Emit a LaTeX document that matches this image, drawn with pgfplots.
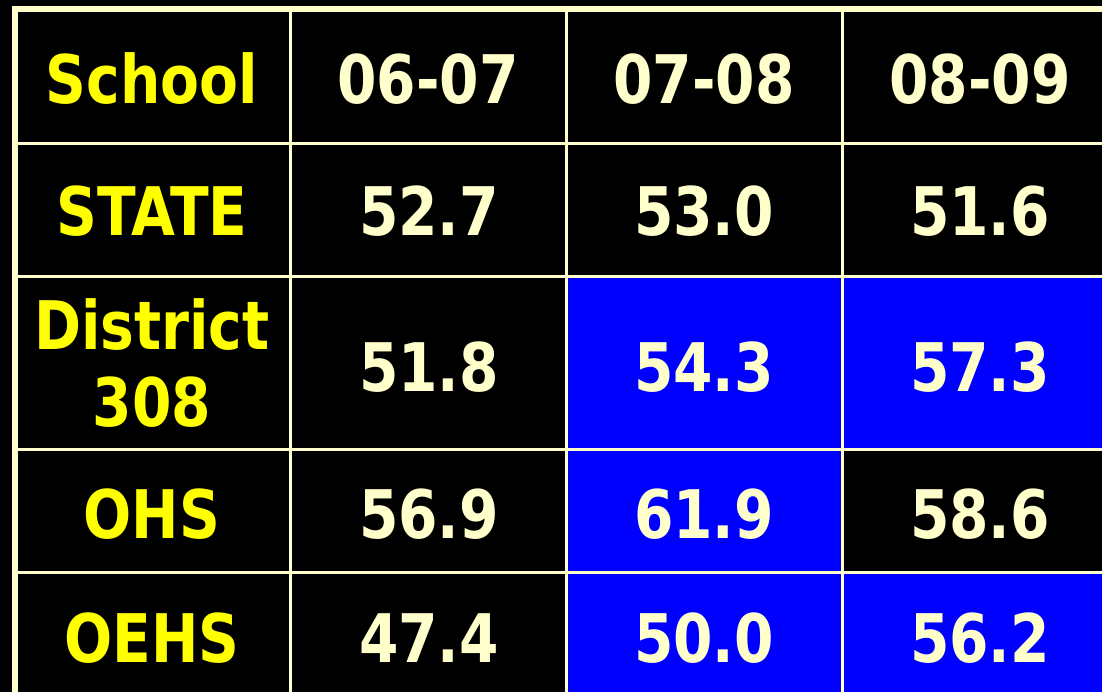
\documentclass[border=0pt]{standalone}
\usepackage{pgfplots}
\pgfplotsset{compat=1.18}
\usepackage{pgfplotstable}
\usepackage{fontspec}
\newfontfamily\tf[FakeStretch=0.94]{DejaVu Sans Condensed Bold}
\definecolor{cream}{HTML}{FFFFCC}
\definecolor{ylw}{HTML}{FFFF00}
\definecolor{cellblue}{HTML}{0000FF}

% School column (yellow)
\pgfplotstableread{
x y label
152 103 School
152 235 STATE
152 349 District
152 426 308
152 538 OHS
152 662 OEHS
}\schoolcol

% Header years and values (cream)
\pgfplotstableread{
x y label
428 103 06-07
704 103 07-08
980 103 08-09
429 235 52.7
704 235 53.0
980 235 51.6
429 391 51.8
704 391 54.3
980 391 57.3
429 538 56.9
704 538 61.9
980 538 58.6
429 662 47.4
704 662 50.0
980 662 56.2
}\valuecells

\pgfplotsset{
  txt/.style={draw=none, mark=none, nodes near coords, point meta=explicit symbolic,
    every node near coord/.append style={font=\tf\fontsize{33.5}{40}\selectfont,
      inner sep=0pt, text depth=0pt, anchor=base, text=#1}},
}

\begin{document}
\begin{tikzpicture}
\begin{axis}[
  width=551pt, height=345.5pt, scale only axis,
  xmin=0, xmax=1102, ymin=0, ymax=691, y dir=reverse,
  hide axis, clip=true, unbounded coords=jump,
]
% background
\addplot[fill=black, draw=none] coordinates {(-20,-20) (1130,-20) (1130,720) (-20,720)} -- cycle;
% blue cells
\addplot[fill=cellblue, draw=none] coordinates {(566,276) (842,276) (842,720) (566,720)} -- cycle;
\addplot[fill=cellblue, draw=none] coordinates {(842,276) (1130,276) (1130,449) (842,449)} -- cycle;
\addplot[fill=cellblue, draw=none] coordinates {(842,572) (1130,572) (1130,720) (842,720)} -- cycle;
% inner grid lines
\addplot[cream, line width=1.5pt] table[row sep=\\] {
x y\\
290 9\\ 290 720\\ nan nan\\
566 9\\ 566 720\\ nan nan\\
842 9\\ 842 720\\ nan nan\\
15 143\\ 1130 143\\ nan nan\\
15 276\\ 1130 276\\ nan nan\\
15 449\\ 1130 449\\ nan nan\\
15 572\\ 1130 572\\
};
% outer frame
\addplot[cream, line width=3pt] coordinates {(15,720) (15,9) (1130,9)};
% text
\addplot[txt=ylw] table[meta=label] {\schoolcol};
\addplot[txt=cream] table[meta=label] {\valuecells};
\end{axis}
\end{tikzpicture}
\end{document}
